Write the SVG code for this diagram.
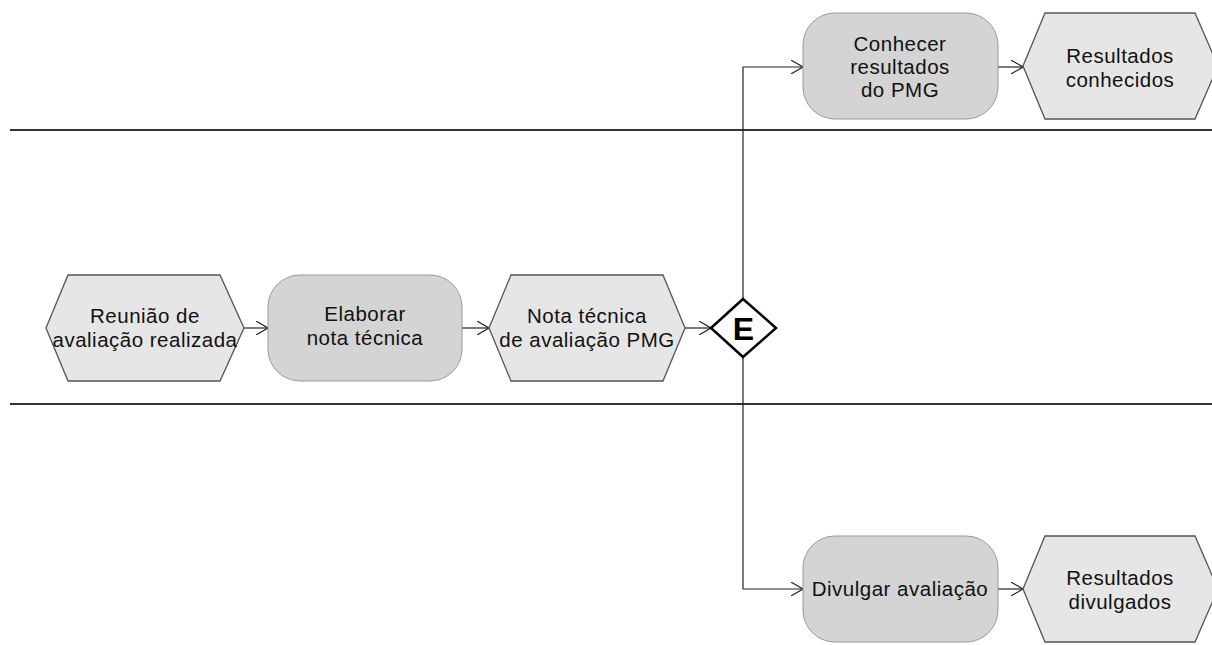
<svg xmlns="http://www.w3.org/2000/svg" width="1212" height="645" viewBox="0 0 1212 645">
  <defs>
    <marker id="arrow" viewBox="0 0 12 14" refX="12" refY="7" markerWidth="12" markerHeight="14" markerUnits="userSpaceOnUse" orient="auto">
      <path d="M0,0 L12,7 L0,14" fill="none" stroke="#222" stroke-width="1.1"/>
    </marker>
  </defs>
  <style>
    .lane { stroke: #333; stroke-width: 2; }
    .event { fill: #e6e6e6; stroke: #555; stroke-width: 1.3; }
    .func { fill: #d4d4d4; stroke: #999; stroke-width: 1; }
    .gate { fill: #fff; stroke: #000; stroke-width: 2.5; }
    .edge { fill: none; stroke: #222; stroke-width: 1.2; marker-end: url(#arrow); }
    .lbl { font-family: "Liberation Sans", Arial, sans-serif; font-size: 20.5px; letter-spacing: 0.5px; fill: #111; text-anchor: middle; }
    .gl { font-family: "Liberation Sans", Arial, sans-serif; font-size: 32px; font-weight: bold; fill: #000; text-anchor: middle; }
  </style>

  <!-- swimlane separators -->
  <g id="lanes">
    <line class="lane" x1="10" y1="130" x2="1212" y2="130"/>
    <line class="lane" x1="10" y1="404" x2="1212" y2="404"/>
  </g>

  <!-- connectors -->
  <g id="connectors">
    <path class="edge" d="M244,328 H268"/>
    <path class="edge" d="M462,328 H489"/>
    <path class="edge" d="M685,328 H711"/>
    <path class="edge" d="M743,299 V67 H803"/>
    <path class="edge" d="M743,357 V589 H803"/>
    <path class="edge" d="M998,67 H1023"/>
    <path class="edge" d="M998,589 H1023"/>
  </g>

  <g id="ev-reuniao">
    <polygon class="event" points="68,275 220,275 244,328 220,381 68,381 46,328"/>
    <text class="lbl" x="145" y="323">Reunião de</text>
    <text class="lbl" x="145" y="347">avaliação realizada</text>
  </g>

  <g id="fn-elaborar">
    <rect class="func" x="268" y="275" width="194" height="106" rx="32"/>
    <text class="lbl" x="365" y="321">Elaborar</text>
    <text class="lbl" x="365" y="345">nota técnica</text>
  </g>

  <g id="ev-nota">
    <polygon class="event" points="511,275 663,275 685,328 663,381 511,381 489,328"/>
    <text class="lbl" x="587" y="323">Nota técnica</text>
    <text class="lbl" x="587" y="347">de avaliação PMG</text>
  </g>

  <g id="gw-e">
    <polygon class="gate" points="711,328 743,299 776,328 743,357"/>
    <text class="gl" x="743.5" y="340">E</text>
  </g>

  <g id="fn-conhecer">
    <rect class="func" x="803" y="13" width="195" height="106" rx="32"/>
    <text class="lbl" x="900" y="51">Conhecer</text>
    <text class="lbl" x="900" y="74">resultados</text>
    <text class="lbl" x="900" y="97">do PMG</text>
  </g>

  <g id="ev-conhecidos">
    <polygon class="event" points="1045,13 1195,13 1218,66 1195,119 1045,119 1023,66"/>
    <text class="lbl" x="1120" y="63">Resultados</text>
    <text class="lbl" x="1120" y="87">conhecidos</text>
  </g>

  <g id="fn-divulgar">
    <rect class="func" x="803" y="536" width="195" height="106" rx="32"/>
    <text class="lbl" x="900" y="596">Divulgar avaliação</text>
  </g>

  <g id="ev-divulgados">
    <polygon class="event" points="1045,536 1195,536 1218,589 1195,642 1045,642 1023,589"/>
    <text class="lbl" x="1120" y="585">Resultados</text>
    <text class="lbl" x="1120" y="609">divulgados</text>
  </g>
</svg>
